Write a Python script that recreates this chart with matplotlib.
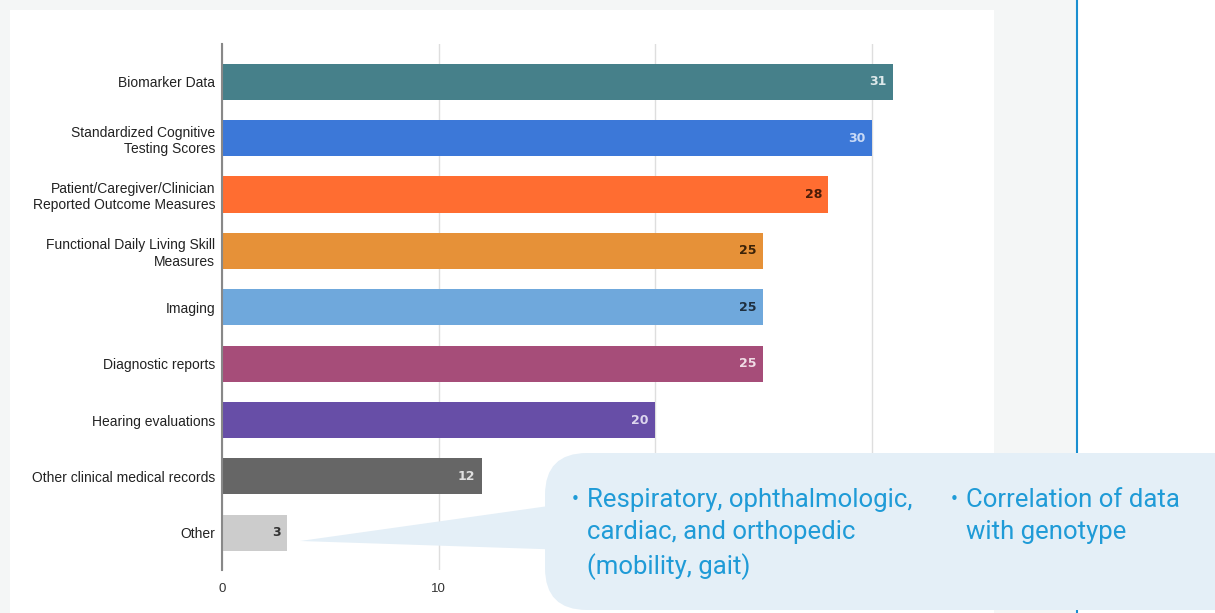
import matplotlib
matplotlib.use("Agg")
import matplotlib.pyplot as plt
from matplotlib.patches import FancyBboxPatch, Polygon, Rectangle

# data
categories = [
    "Biomarker Data",
    "Standardized Cognitive\nTesting Scores",
    "Patient/Caregiver/Clinician\nReported Outcome Measures",
    "Functional Daily Living Skill\nMeasures",
    "Imaging",
    "Diagnostic reports",
    "Hearing evaluations",
    "Other clinical medical records",
    "Other",
]
counts = [31, 30, 28, 25, 25, 25, 20, 12, 3]
bar_colors = ["#46808a", "#3c78d8", "#ff6d31", "#e69138", "#6fa8dc",
              "#a64d79", "#674ea7", "#666666", "#cccccc"]
label_colors = ["#dde8ea", "#c9daf6", "#4a1c08", "#3a2208", "#1f2f3f",
                "#f0dce6", "#ddd6ee", "#e0e0e0", "#333333"]
xticks = [0, 10, 20, 30]

note_left = "Respiratory, ophthalmologic,\ncardiac, and orthopedic\n(mobility, gait)"
note_right = "Correlation of data\nwith genotype"

W, H = 1215, 613
fig = plt.figure(figsize=(W / 100, H / 100), dpi=100)
fig.patch.set_facecolor("#f4f6f6")

# background panels (pixel coords)
bg = fig.add_axes([0, 0, 1, 1], zorder=0)
bg.set_xlim(0, W)
bg.set_ylim(H, 0)
bg.axis("off")
bg.add_patch(Rectangle((10, 10), 984, 610, color="white", lw=0))
bg.add_patch(Rectangle((1078, 0), 140, 620, color="white", lw=0))
bg.plot([1077, 1077], [0, H], color="#1a8fd0", lw=1.5)

# chart
ax = fig.add_axes([222 / W, 1 - 570 / H, 758 / W, 526 / H], zorder=1)
ax.patch.set_alpha(0)
y = list(range(len(categories)))
ax.barh(y, counts, height=0.64, color=bar_colors, zorder=2)
for yi, v, c in zip(y, counts, label_colors):
    ax.text(v - 0.3, yi, str(v), ha="right", va="center", fontsize=9,
            fontweight="bold", color=c, family="DejaVu Sans", zorder=3)

ax.set_xlim(0, 35)
ax.set_ylim(8.66, -0.67)
ax.set_xticks(xticks)
ax.set_xticklabels([str(t) for t in xticks], fontsize=9.5, color="#333333",
                   family="Liberation Sans")
ax.set_yticks(y)
ax.set_yticklabels(categories, fontsize=10, color="#222222",
                   family="Liberation Sans", linespacing=1.2)
ax.tick_params(axis="y", length=0, pad=5)
ax.tick_params(axis="x", length=0, pad=9)
ax.xaxis.grid(True, color="#dedede", lw=1, zorder=0)
for s in ["top", "right", "bottom"]:
    ax.spines[s].set_visible(False)
ax.spines["left"].set_color("#888888")
ax.spines["left"].set_linewidth(1.5)
ax.spines["left"].set_zorder(4)

# callout on top
ov = fig.add_axes([0, 0, 1, 1], zorder=5)
ov.set_xlim(0, W)
ov.set_ylim(H, 0)
ov.axis("off")
ov.patch.set_alpha(0)
callout = "#e4eff7"
ov.add_patch(Polygon([(300, 541), (570, 503), (570, 550)], closed=True,
                     color=callout, lw=0))
ov.add_patch(FancyBboxPatch((585, 493), 700, 77,
                            boxstyle="round,pad=40,rounding_size=42",
                            color=callout, lw=0))
txt = "#1f9bd7"
ov.text(571, 499, "•", fontsize=11, color=txt, va="center", ha="left")
ov.text(587, 488, note_left, fontsize=18.5, color=txt, va="top", ha="left",
        family="Roboto", linespacing=1.42)
ov.text(950, 499, "•", fontsize=11, color=txt, va="center", ha="left")
ov.text(966, 488, note_right, fontsize=18.5, color=txt, va="top", ha="left",
        family="Roboto", linespacing=1.42)

fig.savefig("out.png", dpi=100, facecolor=fig.get_facecolor())
